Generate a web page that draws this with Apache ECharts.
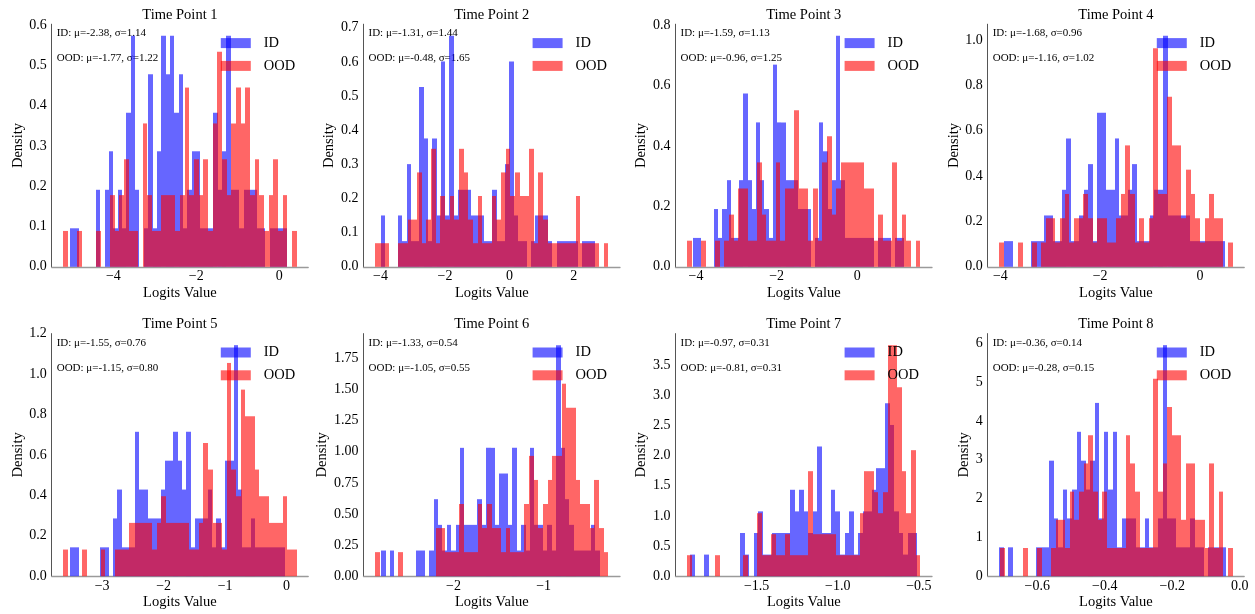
<!DOCTYPE html>
<html><head><meta charset="utf-8">
<script src="https://cdn.jsdelivr.net/npm/echarts@6/dist/echarts.min.js"></script>
<style>html,body{margin:0;padding:0;background:#fff}#c{width:1255px;height:614px}</style>
</head><body><div id="c"></div><script>
// ---------------- DATA ----------------
const panelTitles = ['Time Point 1','Time Point 2','Time Point 3','Time Point 4','Time Point 5','Time Point 6','Time Point 7','Time Point 8'];
const sampleCount = 100; // samples per histogram (density normalisation)

// histogram ranges [min, max] of each 50-bin histogram
const idMin  = [-5.044, -3.99, -4.08, -3.92, -3.52, -2.80, -1.908, -0.712];
const idMax  = [0.19, 2.66, 1.15, 0.50, -0.02, -0.377, -0.511, -0.04];
const oodMin = [-5.205, -4.165, -4.22, -4.02, -3.63, -2.868, -1.928, -0.71];
const oodMax = [0.418, 3.07, 1.567, 0.653, 0.162, -0.283, -0.491, -0.0216];

// bin counts (50 bins each)
const idCounts1 = [1,1,0,0,0,0,2,0,2,3, 1,2,1,4,6,2,0,1,5,1, 3,6,5,6,4,5,1,2,3,3, 1,1,1,4,2,3,6,2,2,1, 2,2,2,1,1,0,1,1,1,1];
const oodCounts1 = [1,0,0,1,0,0,0,1,0,0, 2,1,2,3,1,1,0,4,2,1, 1,2,2,2,1,2,5,2,3,2, 3,1,4,6,3,2,4,5,4,5, 2,3,2,1,2,3,1,2,0,1];
const idCounts2 = [2,0,0,0,2,1,4,1,1,7, 5,1,5,2,8,2,9,2,3,3, 3,2,2,2,1,1,3,1,1,4, 8,2,1,1,0,1,2,2,2,1, 0,1,1,1,1,1,0,1,1,1];
const oodCounts2 = [1,1,1,0,0,1,1,2,2,4, 1,2,5,1,3,2,3,2,5,4, 2,1,3,1,1,3,2,4,5,3, 4,3,3,5,1,4,2,1,1,1, 1,1,1,3,1,1,1,1,0,1];
const idCounts3 = [1,1,0,0,0,2,1,2,3,1, 1,3,6,3,2,5,3,2,1,7, 5,5,3,3,3,2,2,2,0,1, 5,4,2,3,8,3,1,1,1,1, 1,1,1,0,1,1,1,0,1,1];
const oodCounts3 = [1,0,0,1,0,0,1,0,1,2, 1,3,3,1,1,4,2,1,1,4, 1,3,3,6,3,3,1,3,1,4, 5,2,3,4,4,4,4,4,3,3, 1,2,1,1,4,1,2,1,0,1];
const idCounts4 = [1,1,0,0,0,0,1,1,1,2, 2,1,1,3,5,1,1,2,3,4, 1,6,6,3,3,5,2,2,3,4, 1,1,1,2,3,3,9,2,2,2, 2,2,1,1,1,1,1,1,1,1];
const oodCounts4 = [1,0,0,0,1,0,0,1,0,1, 2,2,1,2,3,1,2,2,3,2, 1,2,2,1,1,2,3,5,3,1, 2,1,2,9,3,3,7,5,5,2, 4,3,2,1,2,3,2,2,0,1];
const idCounts5 = [1,1,0,0,0,0,0,1,1,0, 2,3,1,1,1,5,3,3,2,2, 2,3,4,4,5,4,3,5,1,2, 2,2,3,1,2,1,4,4,8,3, 1,1,2,1,1,1,1,1,1,1];
const oodCounts5 = [1,0,0,0,1,0,0,0,1,0, 0,1,1,1,2,2,2,2,2,1, 2,3,2,2,2,2,2,1,1,2, 5,4,2,2,1,8,4,3,7,6, 6,4,3,3,2,2,2,3,1,1];
const idCounts6 = [1,0,1,0,0,0,0,0,1,1, 0,1,3,2,1,2,1,2,5,2, 2,2,3,2,5,5,2,4,4,2, 5,1,2,1,5,2,2,1,2,1, 9,5,3,2,1,1,1,1,2,1];
const oodCounts6 = [1,0,0,0,0,1,0,0,0,0, 0,0,0,2,2,1,1,1,3,1, 1,1,3,2,3,2,2,1,2,1, 1,1,3,5,4,2,3,4,5,5, 8,7,7,4,3,3,2,4,2,1];
const idCounts7 = [1,0,0,1,0,0,0,0,0,0, 0,2,1,0,2,3,1,1,2,2, 2,2,4,3,4,3,2,3,6,2, 2,4,3,1,2,3,1,2,3,3, 4,5,5,8,7,3,2,1,2,2];
const oodCounts7 = [1,0,0,0,0,0,1,0,0,0, 0,0,1,0,0,3,1,1,2,1, 1,2,1,1,1,1,5,2,2,2, 2,2,1,1,1,1,1,3,5,5, 4,3,4,11,11,9,5,3,6,1];
const idCounts8 = [1,0,1,0,0,0,0,0,1,1, 1,4,2,1,3,2,3,5,4,3, 4,6,2,5,3,5,1,2,2,2, 1,1,2,1,1,2,8,2,2,1, 1,1,2,1,1,0,1,1,1,1];
const oodCounts8 = [1,0,0,0,0,1,0,0,1,0, 0,1,2,2,1,3,2,3,4,5, 3,2,3,1,1,1,1,5,4,3, 1,1,1,7,3,4,6,5,5,2, 4,4,2,2,1,4,1,3,0,1];

// annotation statistics
const idMu     = [-2.38, -1.31, -1.59, -1.68, -1.55, -1.33, -0.97, -0.36];
const idSigma  = [1.14, 1.44, 1.13, 0.96, 0.76, 0.54, 0.31, 0.14];
const oodMu    = [-1.77, -0.48, -0.96, -1.16, -1.15, -1.05, -0.81, -0.28];
const oodSigma = [1.22, 1.65, 1.25, 1.02, 0.80, 0.55, 0.31, 0.15];

// tick labels
const xTicks1 = [-4,-2,0], xTicks2 = [-4,-2,0,2], xTicks3 = [-4,-2,0], xTicks4 = [-4,-2,0];
const xTicks5 = [-3,-2,-1,0], xTicks6 = [-2,-1], xTicks7 = [-1.5,-1.0,-0.5], xTicks8 = [-0.6,-0.4,-0.2,0.0];
const xTickDecimals = [0,0,0,0,0,0,1,1];
const yTicks1 = [0,0.1,0.2,0.3,0.4,0.5,0.6];
const yTicks2 = [0,0.1,0.2,0.3,0.4,0.5,0.6,0.7];
const yTicks3 = [0,0.2,0.4,0.6,0.8];
const yTicks4 = [0,0.2,0.4,0.6,0.8,1.0];
const yTicks5 = [0,0.2,0.4,0.6,0.8,1.0,1.2];
const yTicks6 = [0,0.25,0.5,0.75,1.0,1.25,1.5,1.75];
const yTicks7 = [0,0.5,1.0,1.5,2.0,2.5,3.0,3.5];
const yTicks8 = [0,1,2,3,4,5,6];
const yTickDecimals = [1,1,1,1,1,2,1,0];

// ---------------- LAYOUT / STYLE ----------------
const W = 1255;
const FONT = '"Liberation Serif", "DejaVu Serif", serif';
const GRID_LEFT = [51.7, 363.5, 675.5, 987.7];
const GRID_W = 256.5;
const ROW_TOP = [24.2, 333.6];
const GRID_H = 242.6;
const DENSITY_OFFSET = [32.4, 32.6, 32.8, 32.7, 33.4, 39.3, 32.2, 21.0];
const ID_COLOR = 'rgba(0,0,255,0.6)';
const OOD_COLOR = 'rgba(255,0,0,0.6)';

const idCounts = [idCounts1,idCounts2,idCounts3,idCounts4,idCounts5,idCounts6,idCounts7,idCounts8];
const oodCounts = [oodCounts1,oodCounts2,oodCounts3,oodCounts4,oodCounts5,oodCounts6,oodCounts7,oodCounts8];
const xTicks = [xTicks1,xTicks2,xTicks3,xTicks4,xTicks5,xTicks6,xTicks7,xTicks8];
const yTicks = [yTicks1,yTicks2,yTicks3,yTicks4,yTicks5,yTicks6,yTicks7,yTicks8];

function histData(counts, lo, hi) {
  const w = (hi - lo) / counts.length;
  return counts.map((c, i) => [lo + i * w, lo + (i + 1) * w, c / (sampleCount * w)]);
}

function renderBar(color) {
  return function (params, api) {
    const h = api.value(2);
    if (!(h > 0)) return null;
    const p0 = api.coord([api.value(0), 0]);
    const p1 = api.coord([api.value(1), h]);
    const x0 = Math.round(p0[0]), x1 = Math.round(p1[0]);
    return { type: 'rect', shape: { x: x0, y: p1[1], width: x1 - x0, height: p0[1] - p1[1] },
             style: { fill: color } };
  };
}

const grids = [], xAxes = [], yAxes = [], series = [], legends = [], graphics = [];
for (let p = 0; p < 8; p++) {
  const col = p % 4, row = Math.floor(p / 4);
  const left = GRID_LEFT[col], top = ROW_TOP[row];
  const idD = histData(idCounts[p], idMin[p], idMax[p]);
  const oodD = histData(oodCounts[p], oodMin[p], oodMax[p]);
  const lo = Math.min(idMin[p], oodMin[p]), hi = Math.max(idMax[p], oodMax[p]);
  const span = hi - lo;
  const ymaxData = Math.max(...idD.map(d => d[2]), ...oodD.map(d => d[2]));
  grids.push({ left: left, top: top, width: GRID_W, height: GRID_H, containLabel: false, outerBoundsMode: 'none' });
  const xd = xTickDecimals[p], yd = yTickDecimals[p];
  xAxes.push({
    type: 'value', gridIndex: p, min: lo - 0.05 * span, max: hi + 0.05 * span,
    axisLine: { show: true, onZero: false, lineStyle: { color: '#9a9a9a', width: 1.3 } },
    axisTick: { show: false }, splitLine: { show: false },
    axisLabel: { customValues: xTicks[p], margin: 3, fontSize: 14, color: '#000', fontFamily: FONT,
      formatter: v => v.toFixed(xd).replace('-', '\u2212') },
    name: 'Logits Value', nameLocation: 'middle', nameGap: 18.5,
    nameTextStyle: { fontSize: 14.5, color: '#000', fontFamily: FONT }
  });
  yAxes.push({
    type: 'value', gridIndex: p, min: 0, max: ymaxData * 1.05,
    axisLine: { show: true, onZero: false, lineStyle: { color: '#555', width: 1 } },
    axisTick: { show: false }, splitLine: { show: false },
    axisLabel: { customValues: yTicks[p], margin: 5, fontSize: 14, color: '#000', fontFamily: FONT,
      formatter: v => v.toFixed(yd) },
    name: 'Density', nameLocation: 'middle', nameGap: DENSITY_OFFSET[p] - 7.3,
    nameTextStyle: { fontSize: 14.5, color: '#000', fontFamily: FONT }
  });
  series.push({ type: 'custom', name: 'ID', xAxisIndex: p, yAxisIndex: p, data: idD,
    encode: { x: [0, 1], y: 2 }, itemStyle: { color: ID_COLOR }, renderItem: renderBar(ID_COLOR), silent: true });
  series.push({ type: 'custom', name: 'OOD', xAxisIndex: p, yAxisIndex: p, data: oodD,
    encode: { x: [0, 1], y: 2 }, itemStyle: { color: OOD_COLOR }, renderItem: renderBar(OOD_COLOR), silent: true });
  legends.push({
    data: ['ID', 'OOD'], orient: 'vertical', icon: 'rect', selectedMode: false,
    right: W - (left + GRID_W - 13), top: top + 11.4, padding: 0,
    itemWidth: 30, itemHeight: 10, itemGap: 7.8,
    textStyle: { fontSize: 14.5, color: '#000', fontFamily: FONT, lineHeight: 14.5, padding: [0, 0, 0, 8] }
  });
  graphics.push({ type: 'text', x: left + GRID_W / 2, y: top - 9.2, silent: true,
    style: { text: panelTitles[p], fontSize: 14.5, fontFamily: FONT, fill: '#000',
      align: 'center', verticalAlign: 'middle', textAlign: 'center', textVerticalAlign: 'middle' } });
  graphics.push({ type: 'text', x: left + 5, y: top + 9.3, silent: true,
    style: { text: 'ID: \u03bc=' + idMu[p].toFixed(2) + ', \u03c3=' + idSigma[p].toFixed(2),
      fontSize: 11, fontFamily: FONT, fill: '#000', align: 'left', verticalAlign: 'middle',
      textAlign: 'left', textVerticalAlign: 'middle' } });
  graphics.push({ type: 'text', x: left + 5, y: top + 34.3, silent: true,
    style: { text: 'OOD: \u03bc=' + oodMu[p].toFixed(2) + ', \u03c3=' + oodSigma[p].toFixed(2),
      fontSize: 11, fontFamily: FONT, fill: '#000', align: 'left', verticalAlign: 'middle',
      textAlign: 'left', textVerticalAlign: 'middle' } });
}

const chart = echarts.init(document.getElementById('c'), null, { renderer: 'canvas' });
chart.setOption({
  backgroundColor: '#fff', animation: false,
  grid: grids, xAxis: xAxes, yAxis: yAxes, series: series, legend: legends,
  graphic: { elements: graphics }
});
</script></body></html>
